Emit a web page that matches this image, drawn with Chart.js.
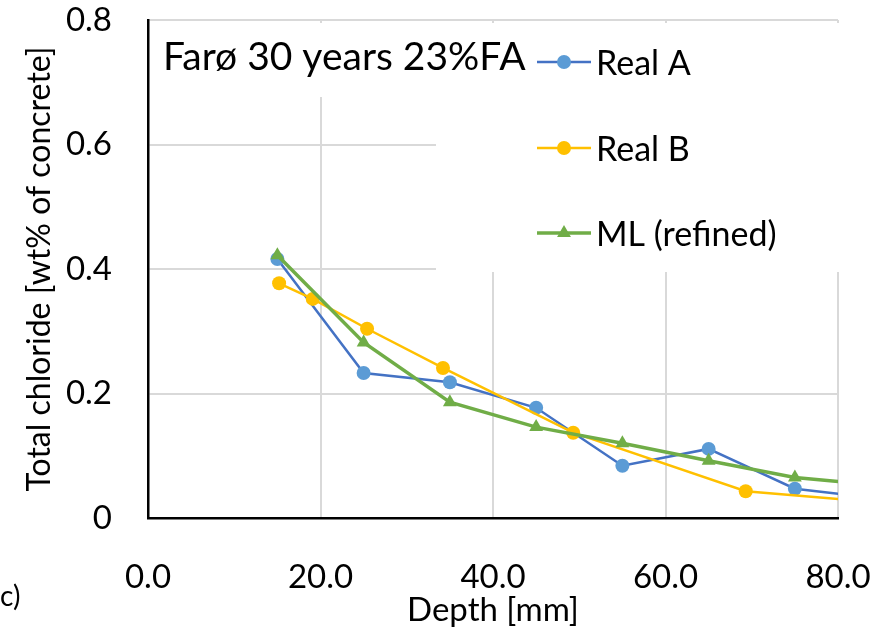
<!DOCTYPE html>
<html>
<head>
<meta charset="utf-8">
<script src="https://cdn.jsdelivr.net/npm/chart.js@4.4.0/dist/chart.umd.min.js"></script>
<style>
  html, body { margin: 0; padding: 0; background: #fff; }
  #wrap { width: 884px; height: 632px; position: relative; }
</style>
</head>
<body>
<div id="wrap"><canvas id="chart"></canvas></div>
<script>
// depth [mm] and total chloride [wt% of concrete]
const depthA = [15, 25, 35, 45, 55, 65, 75, 85];
const realA = [0.416, 0.233, 0.218, 0.177, 0.084, 0.111, 0.047, 0.031];

const depthB = [15.2, 19.1, 25.4, 34.2, 49.3, 69.3, 90];
const realB = [0.377, 0.352, 0.304, 0.241, 0.137, 0.043, 0.019];

const depthML = [15, 25, 35, 45, 55, 65, 75, 85];
const mlRefined = [0.422, 0.282, 0.186, 0.146, 0.12, 0.092, 0.065, 0.052];

const xTicks = [0, 20, 40, 60, 80];
const yTicks = [0, 0.2, 0.4, 0.6, 0.8];

const panelTitle = 'Farø 30 years 23%FA';
const FONT = 'Lato, "Open Sans", sans-serif';

const toPoints = (xs, ys) => xs.map((x, i) => ({ x: x, y: ys[i] }));

// white boxes behind the panel title and the legend, plus the legend itself
const overlay = {
  id: 'overlay',
  beforeDatasetsDraw(chart) {
    const ctx = chart.ctx;
    ctx.save();
    ctx.fillStyle = '#fff';
    ctx.fillRect(150, 23, 290, 74);
    ctx.fillRect(436, 23, 410, 249);
    ctx.restore();
  },
  afterDraw(chart) {
    const ctx = chart.ctx;
    ctx.save();
    ctx.fillStyle = '#000';
    ctx.textBaseline = 'alphabetic';
    ctx.font = '39px ' + FONT;
    ctx.fillText(panelTitle, 163, 70);

    ctx.font = '28px ' + FONT;
    ctx.fillText('c)', 0, 606);

    const rows = [62, 148, 233];
    chart.data.datasets.forEach((ds, i) => {
      const y = rows[i];
      ctx.strokeStyle = ds.borderColor;
      ctx.lineWidth = ds.borderWidth;
      ctx.beginPath();
      ctx.moveTo(537, y);
      ctx.lineTo(591, y);
      ctx.stroke();
      ctx.fillStyle = ds.pointBackgroundColor;
      Chart.helpers.drawPoint(ctx, {
        pointStyle: ds.pointStyle,
        radius: ds.pointRadius,
        rotation: 0,
        borderWidth: 0
      }, 564, y);
      ctx.fillStyle = '#000';
      ctx.font = '34px ' + FONT;
      ctx.textBaseline = 'middle';
      ctx.fillText(ds.label, 596, y + 2);
    });
    ctx.restore();
  }
};

new Chart(document.getElementById('chart'), {
  type: 'scatter',
  data: {
    datasets: [
      {
        label: 'Real A',
        data: toPoints(depthA, realA),
        showLine: true,
        borderColor: '#4472C4',
        borderWidth: 2.5,
        pointBackgroundColor: '#5B9BD5',
        pointBorderColor: '#5B9BD5',
        pointStyle: 'circle',
        pointRadius: 7,
        pointBorderWidth: 0,
        order: 3
      },
      {
        label: 'Real B',
        data: toPoints(depthB, realB),
        showLine: true,
        borderColor: '#FFC000',
        borderWidth: 2.5,
        pointBackgroundColor: '#FFC000',
        pointBorderColor: '#FFC000',
        pointStyle: 'circle',
        pointRadius: 7,
        pointBorderWidth: 0,
        order: 2
      },
      {
        label: 'ML (refined)',
        data: toPoints(depthML, mlRefined),
        showLine: true,
        borderColor: '#70AD47',
        borderWidth: 3.5,
        pointBackgroundColor: '#70AD47',
        pointBorderColor: '#70AD47',
        pointStyle: 'triangle',
        pointRadius: 8,
        pointBorderWidth: 0,
        order: 1
      }
    ]
  },
  options: {
    responsive: true,
    maintainAspectRatio: false,
    animation: false,
    layout: { padding: { left: 0, top: 20, right: 46, bottom: 0 } },
    plugins: {
      legend: { display: false },
      tooltip: { enabled: false }
    },
    scales: {
      x: {
        type: 'linear',
        min: xTicks[0],
        max: xTicks[xTicks.length - 1],
        afterFit: scale => {
          scale.height = 114;
          scale.paddingLeft = 0;
          scale.paddingRight = 0;
        },
        afterBuildTicks: scale => { scale.ticks = xTicks.map(v => ({ value: v })); },
        ticks: {
          color: '#000',
          font: { family: FONT, size: 33 },
          padding: 40,
          maxRotation: 0,
          callback: v => v.toFixed(1)
        },
        grid: { color: '#d9d9d9', lineWidth: 2, drawTicks: false },
        border: { color: '#000', width: 2.5 },
        title: {
          display: true,
          text: 'Depth [mm]',
          color: '#000',
          font: { family: FONT, size: 33 },
          padding: { top: 0, bottom: 2 }
        }
      },
      y: {
        min: yTicks[0],
        max: yTicks[yTicks.length - 1],
        afterFit: scale => {
          scale.width = 148;
          scale.paddingTop = 0;
          scale.paddingBottom = 0;
        },
        afterBuildTicks: scale => { scale.ticks = yTicks.map(v => ({ value: v })); },
        ticks: {
          color: '#000',
          font: { family: FONT, size: 33 },
          padding: 36,
          callback: v => (v === 0 ? '0' : v.toFixed(1))
        },
        grid: { color: '#d9d9d9', lineWidth: 2, drawTicks: false },
        border: { color: '#000', width: 2.5 },
        title: {
          display: true,
          text: 'Total chloride [wt% of concrete]',
          color: '#000',
          font: { family: FONT, size: 32 },
          padding: { top: 20, bottom: 0 }
        }
      }
    }
  },
  plugins: [overlay]
});
</script>
</body>
</html>
